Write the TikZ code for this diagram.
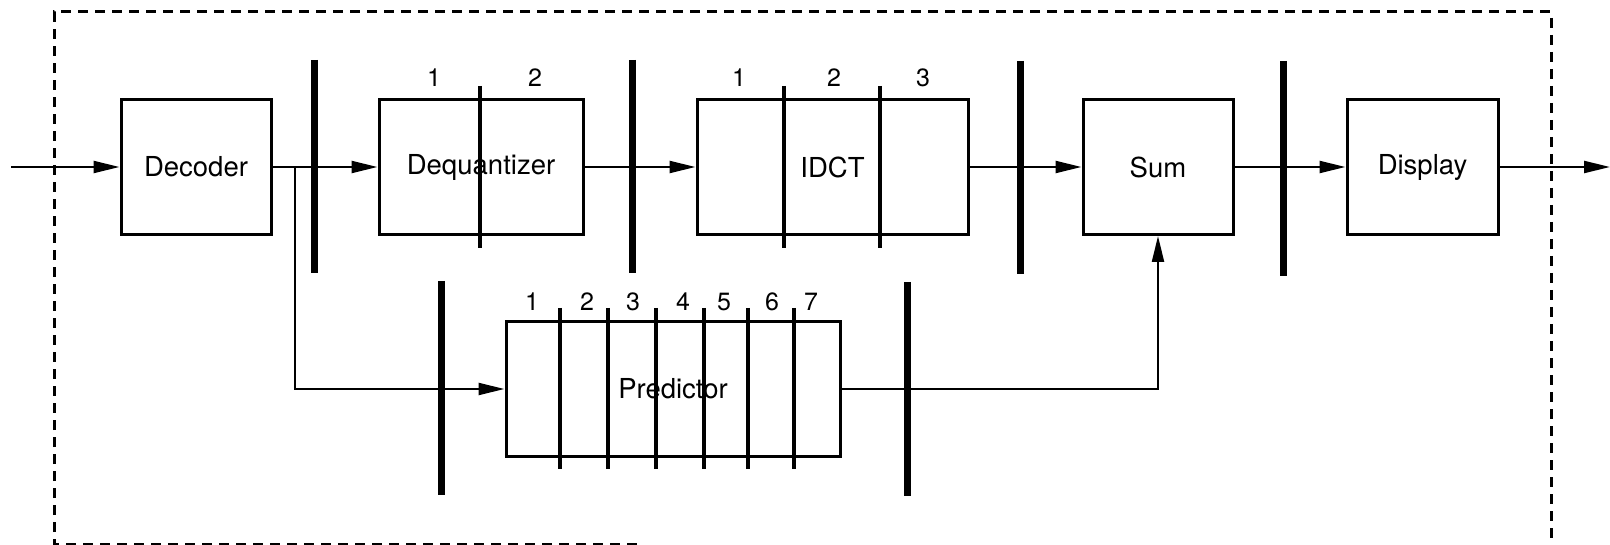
\documentclass[tikz,border=0pt]{standalone}
\usepackage{fontspec}
\setmainfont{TeX Gyre Heros}
\usetikzlibrary{arrows.meta}
\begin{document}
\begin{tikzpicture}[x=1pt,y=-1pt,
  box/.style={draw, line width=3pt, minimum width=#1, minimum height=135pt, inner sep=0pt, font=\fontsize{27.5}{32}\selectfont},
  conn/.style={line width=2.2pt, -{Triangle[length=26pt,width=12pt]}},
  thickbar/.style={line width=7pt},
  thinbar/.style={line width=3.8pt},
  num/.style={font=\fontsize{25}{29}\selectfont, inner sep=0pt},
  frame/.style={line width=3pt, dash pattern=on 10pt off 7pt}]
\useasboundingbox (0,0) rectangle (1610,545);
% dashed frame
\draw[frame] (637,544) -- (54,544) -- (54,12) -- (1551,12) -- (1551,545);
% boxes
\node[box=150pt] (dec)  at (196,167)   {Decoder};
\node[box=204pt] (deq)  at (481,167)   {Dequantizer};
\node[box=271pt] (idct) at (832.5,167) {IDCT};
\node[box=150pt] (sum)  at (1158,167)  {Sum};
\node[box=151pt] (disp) at (1422.5,167) {Display};
\node[box=334pt, minimum height=134pt] (pred) at (673,389) {Predictor};
% connectors
\coordinate (in)  at (11,167);
\coordinate (out) at (1610,167);
\coordinate (br)  at (295,167);
\draw[conn] (in) -- (dec.west);
\draw[conn] (dec.east) -- (deq.west);
\draw[conn] (br) |- (pred.west);
\draw[conn] (deq.east) -- (idct.west);
\draw[conn] (idct.east) -- (sum.west);
\draw[conn] (sum.east) -- (disp.west);
\draw[conn] (disp.east) -- (out);
\draw[conn] (pred.east) -| (sum.south);
% thick pipeline bars
\draw[thickbar] (314,60) -- (314,273);
\draw[thickbar] (632,60) -- (632,273);
\draw[thickbar] (1020,61) -- (1020,274);
\draw[thickbar] (1283,61) -- (1283,276);
\draw[thickbar] (441,281) -- (441,495);
\draw[thickbar] (907,282) -- (907,496);
% thin stage bars
\draw[thinbar] (480,86) -- (480,248);
\draw[thinbar] (784,86) -- (784,248);
\draw[thinbar] (880,86) -- (880,248);
\foreach \x in {560,608,656,704,748,794}
  \draw[thinbar] (\x,308) -- (\x,469);
% stage numbers
\node[num] (q1) at (434,78) {1};
\node[num] (q2) at (535,78) {2};
\node[num] (i1) at (739,78) {1};
\node[num] (i2) at (834,78) {2};
\node[num] (i3) at (923,78) {3};
\node[num] (p1) at (532,302) {1};
\node[num] (p2) at (587,302) {2};
\node[num] (p3) at (633,302) {3};
\node[num] (p4) at (683,302) {4};
\node[num] (p5) at (724,302) {5};
\node[num] (p6) at (772,302) {6};
\node[num] (p7) at (811,302) {7};
\end{tikzpicture}
\end{document}
